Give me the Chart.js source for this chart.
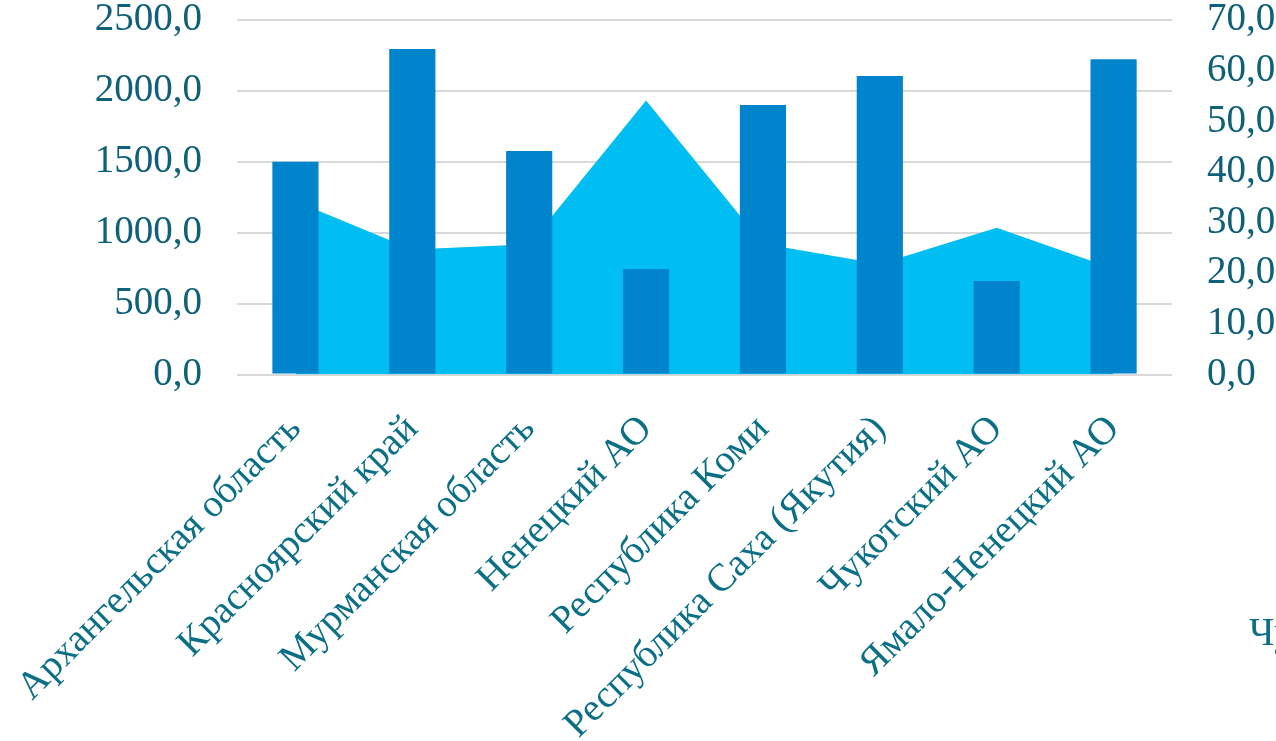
<!DOCTYPE html>
<html>
<head>
<meta charset="utf-8">
<script src="https://cdn.jsdelivr.net/npm/chart.js@4/dist/chart.umd.min.js"></script>
<style>
html,body{margin:0;padding:0;background:#fff;overflow:hidden;width:1276px;height:741px;}
#wrap{position:absolute;left:0;top:0;width:1276px;height:741px;}
#cut{position:absolute;left:1249px;top:612px;font:39px/39px "Liberation Serif",serif;color:#0B6F86;white-space:nowrap;}
</style>
</head>
<body>
<div id="wrap"><canvas id="c" width="1276" height="741"></canvas></div>
<div id="cut">Чукотский АО</div>
<script>
const categories = ["Архангельская область","Красноярский край","Мурманская область","Ненецкий АО","Республика Коми","Республика Саха (Якутия)","Чукотский АО","Ямало-Ненецкий АО"];
const barValues = [1500, 2295, 1576, 744, 1900, 2105, 659, 2223];
const areaValues = [34.2, 24.7, 25.7, 54.1, 25.8, 21.8, 29.0, 20.9];
const leftTicks = [0, 500, 1000, 1500, 2000, 2500];
const rightTicks = [0, 10, 20, 30, 40, 50, 60, 70];

const axisColor = "#0F6079";
const catColor = "#0B6F86";
const fontFamily = "'Liberation Serif', serif";
const fmt = v => Number(v).toFixed(1).replace(".", ",");

new Chart(document.getElementById("c"), {
  data: {
    labels: categories,
    datasets: [
      {
        type: "bar",
        data: barValues,
        backgroundColor: "#0085CC",
        yAxisID: "y",
        order: 1,
        categoryPercentage: 1,
        barPercentage: 0.395
      },
      {
        type: "line",
        data: areaValues,
        yAxisID: "y1",
        fill: "origin",
        backgroundColor: "#00BEF2",
        borderWidth: 0,
        borderColor: "rgba(0,0,0,0)",
        pointRadius: 0,
        tension: 0,
        order: 2
      }
    ]
  },
  options: {
    responsive: false,
    animation: false,
    devicePixelRatio: 1,
    layout: { padding: { top: 20, left: 0, right: 0, bottom: 0 } },
    plugins: { legend: { display: false }, tooltip: { enabled: false } },
    scales: {
      x: {
        grid: { display: false },
        border: { display: false },
        ticks: {
          color: catColor,
          font: { family: fontFamily, size: 39 },
          minRotation: 45,
          maxRotation: 45,
          autoSkip: false,
          padding: 24
        },
        afterFit: s => { s.height = 366.5; s.paddingLeft = 0; s.paddingRight = 0; }
      },
      y: {
        position: "left",
        min: 0,
        max: 2500,
        afterBuildTicks: s => { s.ticks = leftTicks.map(v => ({ value: v })); },
        grid: { color: "#D9D9D9", lineWidth: 2, drawTicks: false },
        border: { display: false },
        ticks: {
          color: axisColor,
          font: { family: fontFamily, size: 39 },
          padding: 35,
          autoSkip: false,
          callback: v => fmt(v)
        },
        afterFit: s => { s.width = 237; s.paddingTop = 0; s.paddingBottom = 0; }
      },
      y1: {
        position: "right",
        min: 0,
        max: 70,
        afterBuildTicks: s => { s.ticks = rightTicks.map(v => ({ value: v })); },
        grid: { display: false, drawTicks: false },
        border: { display: false },
        ticks: {
          color: axisColor,
          font: { family: fontFamily, size: 39 },
          padding: 35,
          autoSkip: false,
          callback: v => fmt(v)
        },
        afterFit: s => { s.width = 104; s.paddingTop = 0; s.paddingBottom = 0; }
      }
    }
  }
});
</script>
</body>
</html>
